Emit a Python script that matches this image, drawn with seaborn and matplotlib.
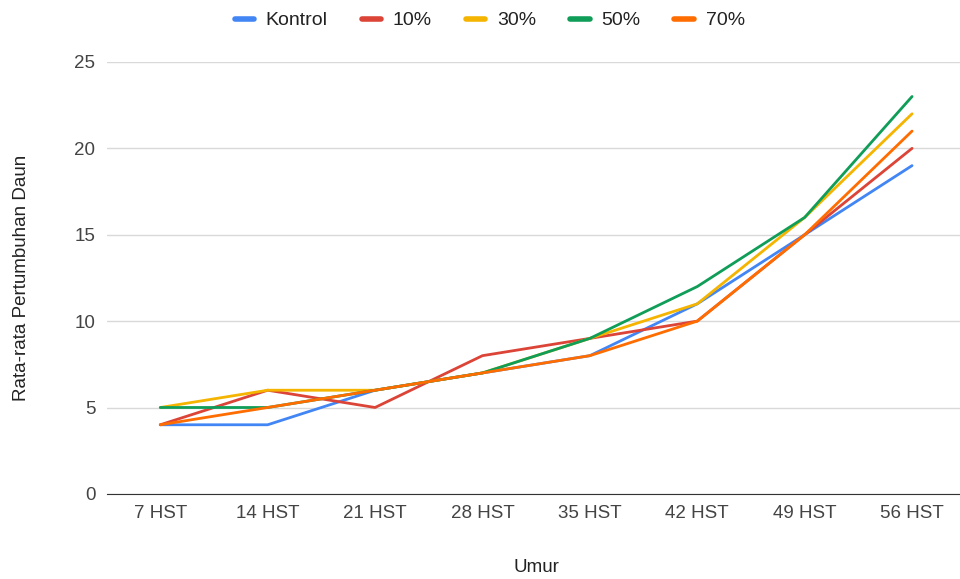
import pandas as pd
import numpy as np
import matplotlib.pyplot as plt
import seaborn as sns

# data
umur = ['7 HST', '14 HST', '21 HST', '28 HST', '35 HST', '42 HST', '49 HST', '56 HST']
kontrol = [4, 4, 6, 7, 8, 11, 15, 19]
p10 = [4, 6, 5, 8, 9, 10, 15, 20]
p30 = [5, 6, 6, 7, 9, 11, 16, 22]
p50 = [5, 5, 6, 7, 9, 12, 16, 23]
p70 = [4, 5, 6, 7, 8, 10, 15, 21]
series = ['Kontrol', '10%', '30%', '50%', '70%']
colors = ['#4285F4', '#DB4437', '#F4B400', '#0F9D58', '#FF6D01']

df = pd.DataFrame({'Umur': umur * 5,
                   'Nilai': kontrol + p10 + p30 + p50 + p70,
                   'Perlakuan': np.repeat(series, len(umur))})
df['x'] = np.tile(np.arange(len(umur)), 5)

sns.set_style('white')
plt.rcParams['font.family'] = ['Liberation Sans', 'DejaVu Sans']

fig = plt.figure(figsize=(9.6, 5.79), dpi=100)
ax = fig.add_axes([0.111, 0.147, 0.895, 0.746])
sns.lineplot(data=df, x='x', y='Nilai', hue='Perlakuan', palette=colors,
             hue_order=series, linewidth=2, ax=ax, legend=False)

ax.set_xlim(-0.5, len(umur) - 0.5)
ax.set_ylim(0, 25)
ax.set_xticks(range(len(umur)))
ax.set_xticklabels(umur)
ax.set_yticks([0, 5, 10, 15, 20, 25])
ax.yaxis.grid(True, color='#d9d9d9', linewidth=1)
ax.tick_params(axis='both', length=0, labelsize=13.5, colors='#444444', pad=8)
for s in ['top', 'right', 'left']:
    ax.spines[s].set_visible(False)
ax.spines['bottom'].set_color('#333333')
ax.set_xlabel('Umur', fontsize=13.5, color='#222222', labelpad=27)
ax.set_ylabel('Rata-rata Pertumbuhan Daun', fontsize=13.5, color='#222222', labelpad=32)

handles = [plt.Line2D([], [], color=c, linewidth=4) for c in colors]
fig.legend(handles, series, loc='upper center', bbox_to_anchor=(0.51, 1.01), ncol=5,
           frameon=False, fontsize=14, handlelength=1.0, handletextpad=0.6,
           columnspacing=1.75, labelcolor='#222222')

plt.savefig('out.png', dpi=100)
